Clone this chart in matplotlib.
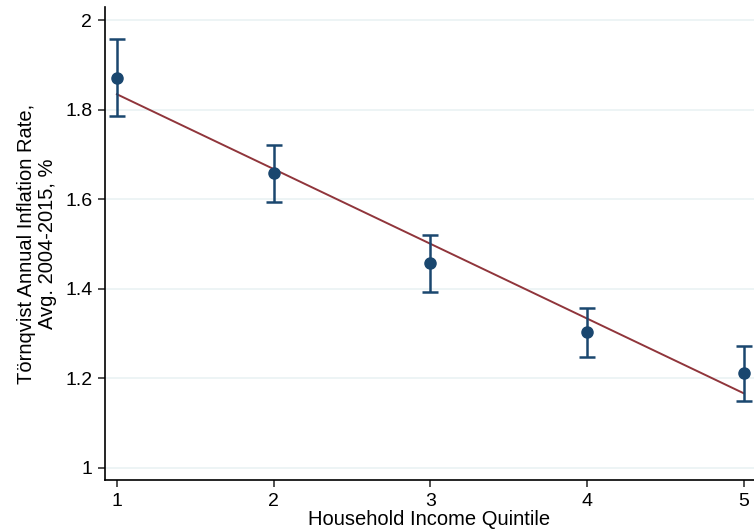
import numpy as np
import matplotlib.pyplot as plt

plt.rcParams['font.family'] = ['Liberation Sans', 'DejaVu Sans']

# quintile means with 95% CI bounds
quintile = np.array([1, 2, 3, 4, 5])
mean_rate = np.array([1.870, 1.658, 1.458, 1.304, 1.212])
ci_low = np.array([1.786, 1.594, 1.393, 1.248, 1.150])
ci_high = np.array([1.958, 1.721, 1.520, 1.357, 1.272])

y_ticks = [1, 1.2, 1.4, 1.6, 1.8, 2]
y_tick_labels = ['1', '1.2', '1.4', '1.6', '1.8', '2']

navy = '#1a476f'
maroon = '#90353b'

fig = plt.figure(figsize=(7.54, 5.29), dpi=100)
ax = fig.add_axes([0.139, 0.0926, 0.861, 0.894])

for y in y_ticks:
    ax.axhline(y, color='#eaf2f3', lw=1.2, zorder=0)

# linear fit line
slope, intercept = np.polyfit(quintile, mean_rate, 1)
ax.plot(quintile, intercept + slope * quintile, color=maroon, lw=1.4, zorder=2)

ax.errorbar(quintile, mean_rate,
            yerr=[mean_rate - ci_low, ci_high - mean_rate],
            fmt='o', color=navy, ms=8, elinewidth=1.8, capsize=6,
            capthick=1.8, zorder=3)

ax.set_xlim(0.923, 5.064)
ax.set_ylim(0.973, 2.029)
ax.set_xticks(quintile)
ax.set_yticks(y_ticks)
ax.set_yticklabels(y_tick_labels)
ax.tick_params(labelsize=14, length=5, width=1.2, color='#333333', pad=4)
ax.spines['top'].set_visible(False)
ax.spines['right'].set_visible(False)
ax.spines['left'].set_linewidth(1.2)
ax.spines['bottom'].set_linewidth(1.2)

ax.set_xlabel('Household Income Quintile', fontsize=14.5, labelpad=0)
ax.set_ylabel('Törnqvist Annual Inflation Rate,\nAvg. 2004-2015, %', fontsize=14.5,
              labelpad=6, linespacing=1.1)

plt.savefig('out.png', dpi=100)
